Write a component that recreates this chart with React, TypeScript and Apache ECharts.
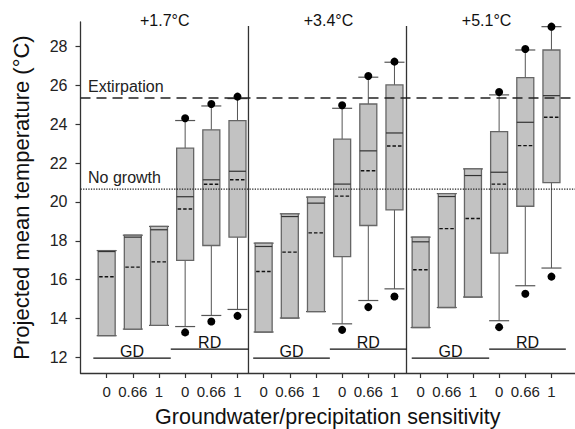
import React, { useEffect, useRef } from "react";
import * as echarts from "echarts";

// Category positions (1..18) and their tick labels
const positions = [1, 2, 3, 4, 5, 6, 7, 8, 9, 10, 11, 12, 13, 14, 15, 16, 17, 18];
const tickLabels = ["0", "0.66", "1", "0", "0.66", "1", "0", "0.66", "1", "0", "0.66", "1", "0", "0.66", "1", "0", "0.66", "1"];
const yTicks = [12, 14, 16, 18, 20, 22, 24, 26, 28];

// Box statistics (°C)
const lowDot = [null, null, null, 13.29, 13.85, 14.14, null, null, null, 13.42, 14.59, 15.14, null, null, null, 13.56, 15.28, 16.16];
const lowWhisker = [13.12, 13.46, 13.65, 13.59, 14.16, 14.47, 13.31, 14.03, 14.36, 13.73, 14.93, 15.53, 13.54, 14.57, 15.11, 13.89, 15.69, 16.6];
const q1 = [13.12, 13.46, 13.65, 16.99, 17.76, 18.19, 13.31, 14.03, 14.36, 17.19, 18.79, 19.59, 13.54, 14.57, 15.11, 17.37, 19.78, 21.0];
const median = [17.45, 18.19, 18.57, 20.27, 21.14, 21.58, 17.71, 19.25, 19.94, 20.92, 22.63, 23.55, 17.95, 20.28, 21.36, 21.53, 24.1, 25.47];
const mean = [16.15, 16.65, 16.92, 19.64, 20.91, 21.14, 16.42, 17.42, 18.41, 20.3, 21.61, 22.88, 16.51, 18.63, 19.15, 20.92, 22.9, 24.36];
const q3 = [17.5, 18.29, 18.74, 22.77, 23.71, 24.19, 17.88, 19.39, 20.25, 23.23, 25.04, 26.02, 18.19, 20.43, 21.7, 23.62, 26.4, 27.82];
const highWhisker = [17.5, 18.29, 18.74, 24.19, 24.94, 25.32, 17.88, 19.39, 20.25, 24.82, 26.42, 27.19, 18.19, 20.43, 21.7, 25.51, 27.82, 29.02];
const highDot = [null, null, null, 24.31, 25.04, 25.42, null, null, null, 24.98, 26.48, 27.22, null, null, null, 25.66, 27.87, 29.02];

// Panels
const panelTitles = ["+1.7°C", "+3.4°C", "+5.1°C"];
const panelTitlePos = [3.22, 9.48, 15.52];
const dividerPos = [6.42, 12.46];

// Threshold lines
const thresholdNames = ["Extirpation", "No growth"];
const thresholdValues = [25.35, 20.66];

// Group brackets
const groupNames = ["GD", "RD", "GD", "RD", "GD", "RD"];
const groupStart = [0.49, 3.45, 6.6, 9.53, 12.66, 15.62];
const groupEnd = [3.45, 6.42, 9.53, 12.46, 15.62, 18.55];
const groupLevel = [11.97, 12.43, 11.97, 12.43, 11.97, 12.43];

const FONT = '"Liberation Sans", Arial, sans-serif';
const AXIS = "#333";

export default function App() {
  const ref = useRef<HTMLDivElement>(null);

  useEffect(() => {
    if (!ref.current) return;
    const chart = echarts.init(ref.current, null, { renderer: "svg" });

    const boxSeries = {
      type: "custom",
      z: 2,
      data: positions.map((p, i) => [p, lowWhisker[i], highWhisker[i]]),
      encode: { x: 0, y: [1, 2] },
      renderItem: (params: any, api: any) => {
        const i = params.dataIndex;
        const xv = api.value(0);
        const c = (v: number) => api.coord([xv, v]);
        const cx = c(q3[i])[0];
        const bw = 17;
        const cw = 20;
        const yq1 = c(q1[i])[1];
        const yq3 = c(q3[i])[1];
        const ylw = c(lowWhisker[i])[1];
        const yhw = c(highWhisker[i])[1];
        const ymed = c(median[i])[1];
        const ymean = c(mean[i])[1];
        const children: any[] = [];
        children.push({ type: "line", shape: { x1: cx, y1: yq3, x2: cx, y2: yhw }, style: { stroke: "#555", lineWidth: 1 } });
        children.push({ type: "line", shape: { x1: cx, y1: yq1, x2: cx, y2: ylw }, style: { stroke: "#555", lineWidth: 1 } });
        children.push({ type: "line", shape: { x1: cx - cw / 2, y1: yhw, x2: cx + cw / 2, y2: yhw }, style: { stroke: "#555", lineWidth: 1.2 } });
        children.push({ type: "line", shape: { x1: cx - cw / 2, y1: ylw, x2: cx + cw / 2, y2: ylw }, style: { stroke: "#555", lineWidth: 1.2 } });
        children.push({
          type: "rect",
          shape: { x: cx - bw / 2, y: yq3, width: bw, height: yq1 - yq3 },
          style: { fill: "#c2c2c2", stroke: "#666", lineWidth: 1.3 },
        });
        children.push({ type: "line", shape: { x1: cx - bw / 2, y1: ymed, x2: cx + bw / 2, y2: ymed }, style: { stroke: "#333", lineWidth: 1.2 } });
        children.push({ type: "line", shape: { x1: cx - bw / 2 + 1, y1: ymean, x2: cx + bw / 2 - 1, y2: ymean }, style: { stroke: "#111", lineWidth: 1.4, lineDash: [3.5, 2] } });
        if (lowDot[i] != null) {
          const p = c(lowDot[i] as number);
          children.push({ type: "circle", shape: { cx, cy: p[1], r: 4 }, style: { fill: "#000" } });
        }
        if (highDot[i] != null) {
          const p = c(highDot[i] as number);
          children.push({ type: "circle", shape: { cx, cy: p[1], r: 4 }, style: { fill: "#000" } });
        }
        return { type: "group", children };
      },
    };

    const thresholdSeries = {
      type: "custom",
      z: 5,
      data: thresholdValues.map((v) => [0, v]),
      encode: { x: 0, y: 1 },
      renderItem: (params: any, api: any) => {
        const cs = params.coordSys;
        const i = params.dataIndex;
        const p = api.coord([api.value(0), api.value(1)]);
        return {
          type: "group",
          children: [
            {
              type: "line",
              shape: { x1: cs.x, y1: p[1], x2: cs.x + cs.width, y2: p[1] },
              style: { stroke: "#222", lineWidth: 1.3, lineDash: i === 0 ? [10, 6] : [1.3, 1.3] },
            },
            {
              type: "text",
              x: cs.x + 7.5,
              y: p[1] - 11.6,
              style: {
                text: thresholdNames[i],
                fill: "#222",
                font: `16px ${FONT}`,
                align: "left",
                verticalAlign: "middle",
                textAlign: "left",
                textVerticalAlign: "middle",
              },
            },
          ],
        };
      },
    };

    const dividerSeries = {
      type: "custom",
      z: 4,
      data: dividerPos.map((d) => [d, 29.05]),
      encode: { x: 0, y: 1 },
      renderItem: (params: any, api: any) => {
        const cs = params.coordSys;
        const p = api.coord([api.value(0), api.value(1)]);
        return {
          type: "line",
          shape: { x1: p[0], y1: p[1], x2: p[0], y2: cs.y + cs.height },
          style: { stroke: AXIS, lineWidth: 1.3 },
        };
      },
    };

    const titleSeries = {
      type: "custom",
      z: 4,
      data: panelTitlePos.map((t) => [t, 28]),
      encode: { x: 0, y: 1 },
      renderItem: (params: any, api: any) => {
        const cs = params.coordSys;
        const p = api.coord([api.value(0), api.value(1)]);
        return {
          type: "text",
          x: p[0],
          y: cs.y - 2,
          style: {
            text: panelTitles[params.dataIndex],
            fill: "#111",
            font: `16px ${FONT}`,
            align: "center",
            verticalAlign: "middle",
            textAlign: "center",
            textVerticalAlign: "middle",
          },
        };
      },
    };

    const groupSeries = {
      type: "custom",
      z: 4,
      data: groupNames.map((_, i) => [groupStart[i], groupEnd[i], groupLevel[i]]),
      encode: { x: [0, 1], y: 2 },
      renderItem: (params: any, api: any) => {
        const i = params.dataIndex;
        const a = api.coord([api.value(0), api.value(2)]);
        const b = api.coord([api.value(1), api.value(2)]);
        return {
          type: "group",
          children: [
            { type: "line", shape: { x1: a[0], y1: a[1], x2: b[0], y2: b[1] }, style: { stroke: "#111", lineWidth: 1.3 } },
            {
              type: "text",
              x: (a[0] + b[0]) / 2,
              y: a[1] - 7,
              style: {
                text: groupNames[i],
                fill: "#111",
                font: `16px ${FONT}`,
                align: "center",
                verticalAlign: "middle",
                textAlign: "center",
                textVerticalAlign: "middle",
              },
            },
          ],
        };
      },
    };

    chart.setOption({
      animation: false,
      backgroundColor: "#fff",
      grid: { left: 80.5, right: 0, top: 22, bottom: 56, outerBoundsMode: "none", containLabel: false },
      xAxis: {
        type: "value",
        min: 0,
        max: 18.9,
        splitLine: { show: false },
        axisLine: { show: true, lineStyle: { color: AXIS, width: 1.3 } },
        axisTick: { show: true, customValues: positions, length: 5, lineStyle: { color: AXIS, width: 1.2 } },
        axisLabel: {
          customValues: positions,
          formatter: (v: number) => {
            const k = Math.round(v);
            return Math.abs(v - k) < 1e-6 && k >= 1 && k <= 18 ? tickLabels[k - 1] : "";
          },
          fontSize: 15,
          color: "#222",
          fontFamily: FONT,
          margin: 11,
        },
        name: "Groundwater/precipitation sensitivity",
        nameLocation: "middle",
        nameGap: 33,
        nameTextStyle: { fontSize: 21.5, color: "#111", fontFamily: FONT },
      },
      yAxis: {
        type: "value",
        min: 11.2,
        max: 29.26,
        splitLine: { show: false },
        axisLine: { show: true, lineStyle: { color: AXIS, width: 1.3 } },
        axisTick: { show: true, customValues: yTicks, length: 5, lineStyle: { color: AXIS, width: 1.2 } },
        axisLabel: { customValues: yTicks, fontSize: 16, color: "#222", fontFamily: FONT, margin: 13 },
        name: "Projected mean temperature (°C)",
        nameLocation: "middle",
        nameGap: 48,
        nameTextStyle: { fontSize: 22, color: "#111", fontFamily: FONT },
      },
      series: [boxSeries, thresholdSeries, dividerSeries, titleSeries, groupSeries],
    });

    return () => chart.dispose();
  }, []);

  return <div ref={ref} style={{ position: "fixed", left: 0, top: 0, width: 575, height: 429 }} />;
}
